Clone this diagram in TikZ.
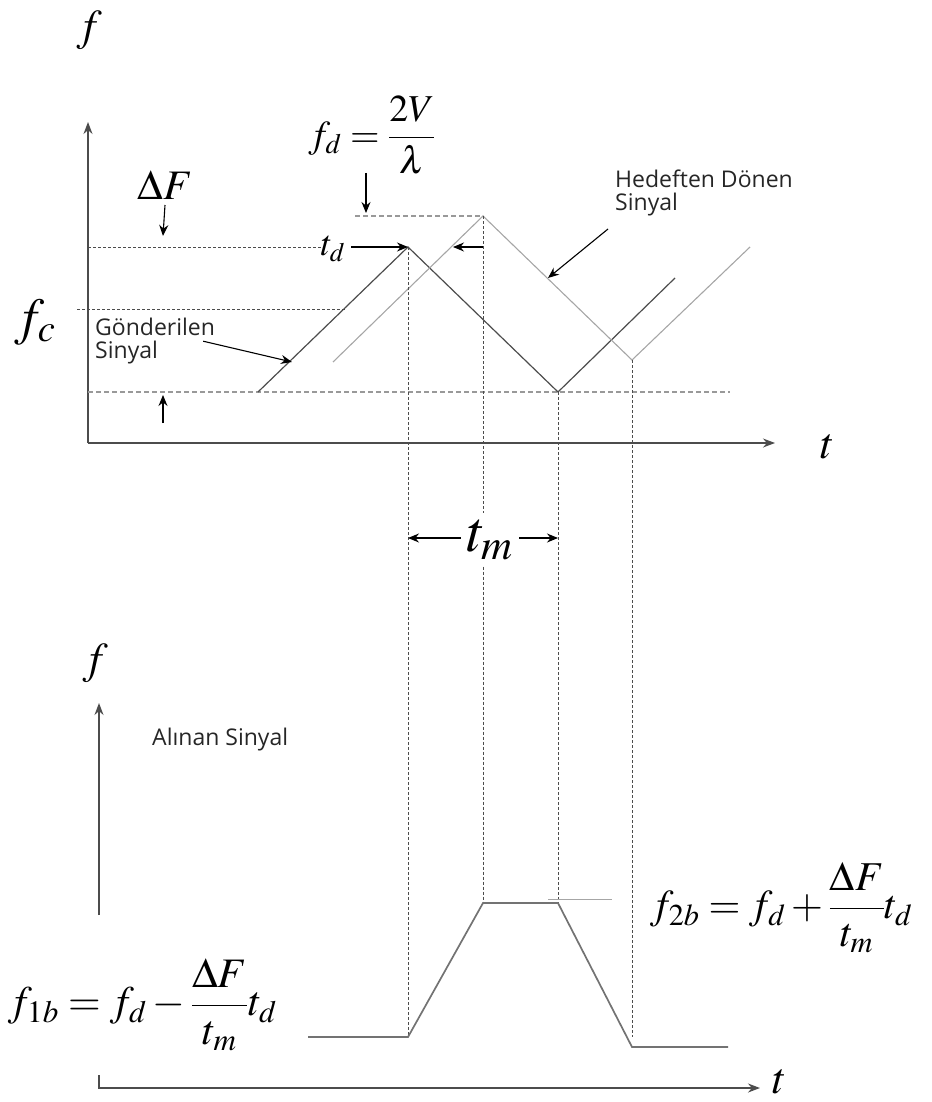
\documentclass[tikz,border=0pt]{standalone}
\usepackage{mathptmx}
\usepackage[no-math]{fontspec}
\setsansfont{Open Sans}
\usetikzlibrary{arrows.meta,calc}
\newcommand{\msize}[1]{\fontsize{#1}{#1}\selectfont}

\begin{document}
\begin{tikzpicture}[x=1pt,y=-1pt,
  axis/.style={draw=black!70,line width=1.4pt,-{Stealth[length=12pt,width=9pt]}},
  tx/.style={draw=black!70,line width=1.2pt},
  rx/.style={draw=black!35,line width=1.1pt},
  rcv/.style={draw=black!55,line width=1.7pt},
  guide/.style={draw=black!70,line width=0.9pt,dash pattern=on 3pt off 2pt},
  level/.style={draw=black!40,line width=1.6pt,dash pattern=on 5pt off 3pt},
  ptr/.style={draw=black,line width=1.1pt,-{Stealth[length=11pt,width=9pt]}},
  lbl/.style={inner sep=0pt},
  note/.style={font=\sffamily\msize{23},text=black!85,align=left,inner sep=0pt}]
\useasboundingbox (0,0) rectangle (931,1102);
\coordinate (O1) at (88,443); \coordinate (Y1) at (88,122); \coordinate (X1) at (775,443);
\draw[axis] (O1)--(Y1); \draw[axis] (O1)--(X1);
\node[lbl,font=\msize{44}] (ft) at (90,30) {$f$};
\node[lbl,font=\msize{44}] (tt) at (828,447) {$t$};
\node[lbl,font=\msize{52}] (fc) at (35,322) {$f_c$};
\coordinate (Lo) at (88,392); \coordinate (LoE) at (730,392);
\coordinate (Fc0) at (77,309); \coordinate (Fc1) at (345,309);
\coordinate (Hi) at (88,247); \coordinate (Fd) at (355,216);
\coordinate (T0) at (258,392); \coordinate (T1) at (408,247); \coordinate (T2) at (558,392); \coordinate (T3) at (675,278);
\coordinate (R0) at (333,362); \coordinate (R1) at (483,216); \coordinate (R2) at (632,360); \coordinate (R3) at (750,247);
\draw[level] (Lo)--(LoE);
\draw[level] (Fd)--(R1);
\draw[guide] (Fc0)--(Fc1);
\node[lbl,font=\msize{36}] (td) at (333,249) {$t_d$};
\draw[guide] (Hi)--(td.west |- Hi);
\draw[tx] (T0)--(T1)--(T2)--(T3);
\draw[rx] (R0)--(R1)--(R2)--(R3);
\draw[ptr] ([xshift=6pt]td.east |- T1)--(T1);
\coordinate (Tda) at (453,247);
\draw[ptr] (R1 |- T1)--(Tda);
\node[lbl,font=\msize{42}] (dF) at (165,185) {$\Delta F$};
\coordinate (dFa) at (163,236); \coordinate (dFb0) at (163,423); \coordinate (dFb) at (163,395);
\draw[ptr] (dF.south |- 0,205)--(dFa);
\draw[ptr] (dFb0)--(dFb);
\node[lbl,font=\msize{38}] (fdl) at (372,135) {$\displaystyle f_d=\frac{2V}{\lambda}$};
\coordinate (fda0) at (366,173); \coordinate (fda) at (366,213);
\draw[ptr] (fda0)--(fda);
\node[note,anchor=north west] (txn) at (95,318) {Gönderilen\\Sinyal};
\coordinate (Ta) at (292,362);
\draw[ptr] ([xshift=-12pt]txn.east)--(Ta);
\node[note,anchor=north west] (rxn) at (615,170) {Hedeften Dönen\\Sinyal};
\coordinate (Ra0) at (608,229); \coordinate (Ra) at (548,278);
\draw[ptr] (Ra0)--(Ra);
% lower plot
\coordinate (O2) at (99,1088); \coordinate (C2) at (99,1075); \coordinate (X2) at (760,1088);
\coordinate (Y2b) at (99,915); \coordinate (Y2) at (99,703);
\draw[axis] (Y2b)--(Y2);
\draw[axis] (C2)--(O2)--(X2);
\node[lbl,font=\msize{44}] (fb) at (96,663) {$f$};
\node[lbl,font=\msize{44}] (tb) at (780,1082) {$t$};
\node[note,anchor=west] (al) at (152,740) {Alınan Sinyal};
\coordinate (S0) at (308,1037); \coordinate (S1) at (408,1037); \coordinate (S2) at (483,903);
\coordinate (S3) at (558,903); \coordinate (S4) at (632,1047); \coordinate (S5) at (728,1047);
\coordinate (S6) at (632,1037); \coordinate (P0) at (548,899); \coordinate (P1) at (612,899);
\node[lbl,font=\msize{58},fill=white,inner sep=6pt] (tm) at (490,540) {$t_m$};
\draw[guide] (T1)--(S1);
\draw[guide] (R1)--(R1 |- tm.north);
\draw[guide] (R1 |- tm.south)--(S2);
\draw[guide] (T2)--(S3);
\draw[guide] (R2)--(S6);
\coordinate (Ml) at (408,538); \coordinate (Mr) at (558,538);
\draw[ptr] (452,538 -| tm.west)--(Ml);
\draw[ptr] (tm.east |- Mr)--(Mr);
\draw[rcv] (S0)--(S1)--(S2)--(S3)--(S4)--(S5);
\draw[rx,line width=0.8pt] (P0)--(P1);
\node[lbl,font=\msize{41},anchor=west] (f2) at (650,908) {$\displaystyle f_{2b}=f_d+\frac{\Delta F}{t_m}t_d$};
\node[lbl,font=\msize{42},anchor=west] (f1) at (8,1005) {$\displaystyle f_{1b}=f_d-\frac{\Delta F}{t_m}t_d$};
\end{tikzpicture}
\end{document}
